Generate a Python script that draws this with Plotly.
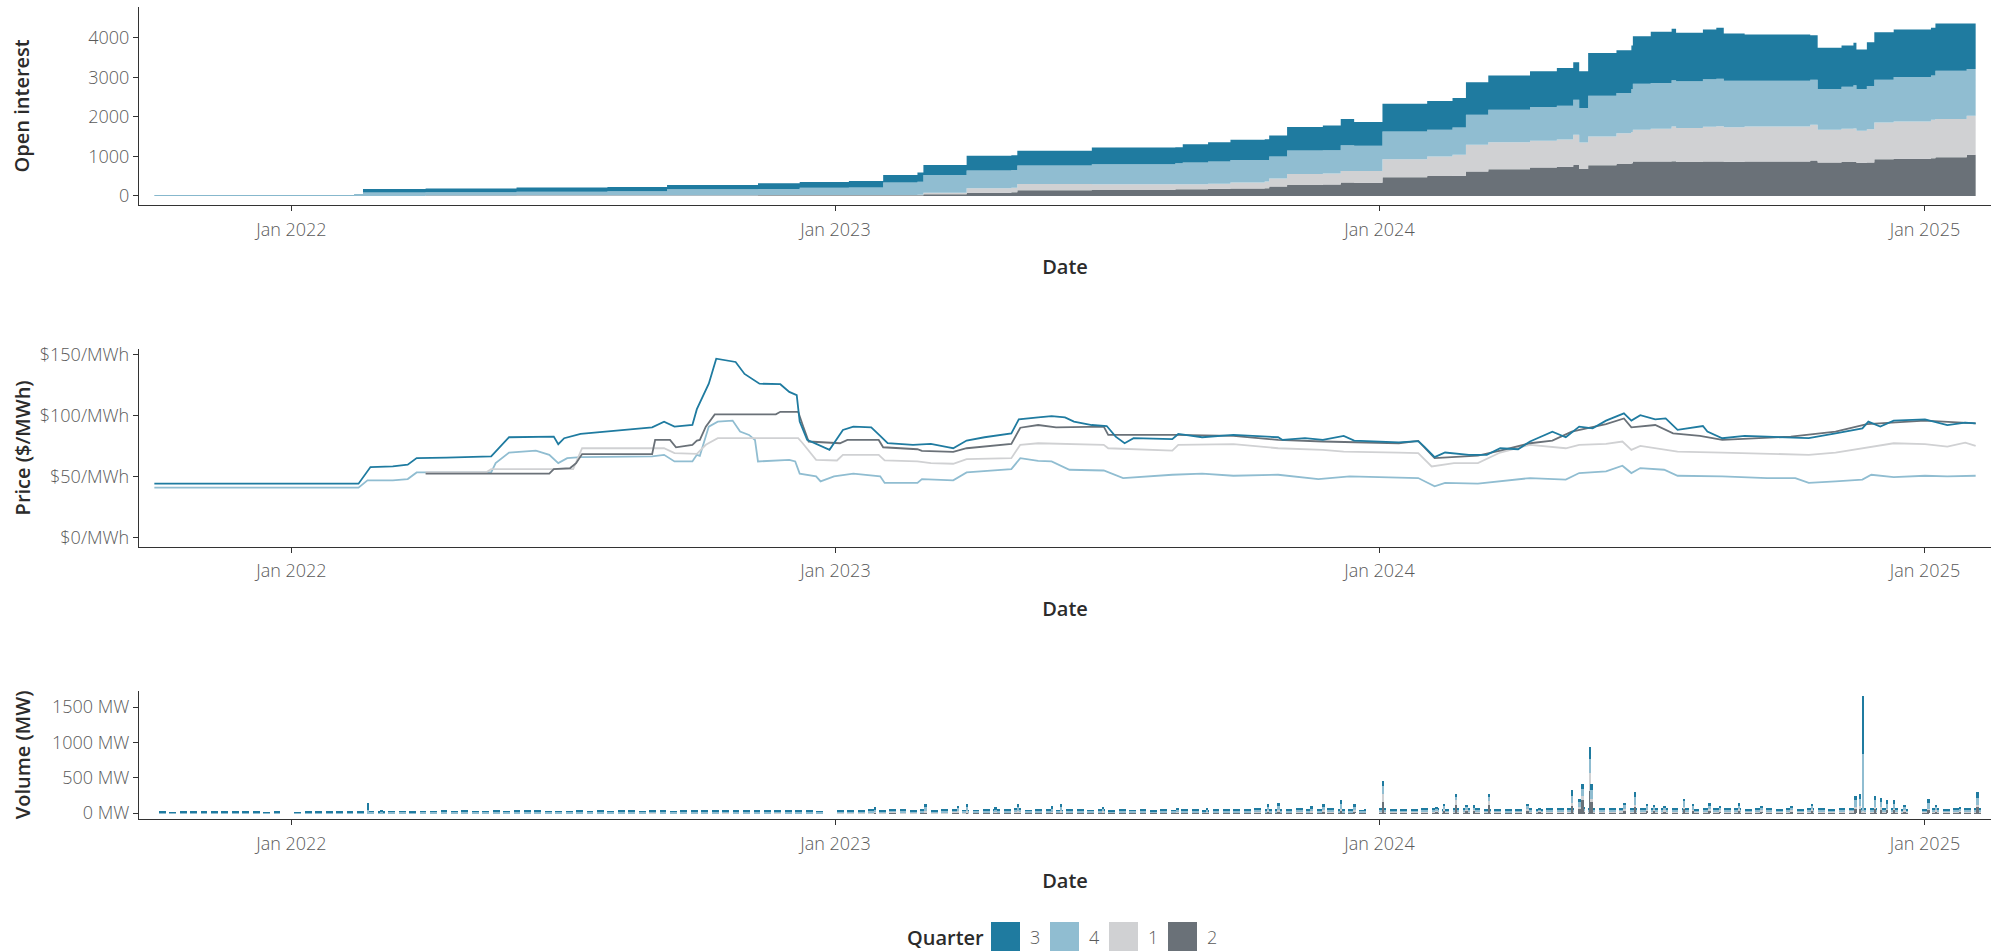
import pandas as pd
import plotly.graph_objects as go

# ---------------- colours ----------------
COL = {"3": "#1f7ba0", "4": "#90bdd1", "1": "#d0d1d3", "2": "#6a7178"}
STACK_ORDER = ["2", "1", "4", "3"]          # bottom -> top
LEGEND_ORDER = ["3", "4", "1", "2"]

# ---------------- open interest (per quarter, step dates) ----------------
oi_dates = ["2021-10-01", "2022-02-12", "2022-02-18", "2022-04-01", "2022-06-01", "2022-08-01",
            "2022-09-10", "2022-11-10", "2022-12-08", "2023-01-10", "2023-02-02", "2023-02-25",
            "2023-03-01", "2023-03-30", "2023-04-29", "2023-05-03", "2023-06-22", "2023-08-17",
            "2023-08-22", "2023-09-08", "2023-09-23", "2023-10-16", "2023-10-19", "2023-10-31",
            "2023-11-24", "2023-12-06", "2023-12-15", "2024-01-02", "2024-01-03", "2024-02-02",
            "2024-02-19", "2024-02-28", "2024-03-14", "2024-04-11", "2024-04-29", "2024-05-10",
            "2024-05-14", "2024-05-20", "2024-06-08", "2024-06-18", "2024-06-19", "2024-07-01",
            "2024-07-15", "2024-07-18", "2024-08-05", "2024-08-14", "2024-08-19", "2024-09-02",
            "2024-10-16", "2024-10-21", "2024-11-06", "2024-11-14", "2024-11-16", "2024-11-23",
            "2024-11-28", "2024-12-11", "2025-01-05", "2025-01-08", "2025-01-29", "2025-02-04"]
oi_q2 = [0, 0, 0, 12, 13, 14, 15, 16, 16, 16, 18, 20, 42, 85, 95, 144, 150, 169, 172, 180, 190, 194,
         237, 279, 290, 338, 335, 335, 474, 507, 515, 617, 677, 719, 740, 786, 685, 778, 812, 830,
         871, 875, 880, 860, 870, 875, 865, 871, 896, 846, 860, 865, 840, 850, 930, 939, 956, 981,
         1040, 1082]
oi_q1 = [0, 0, 0, 3, 5, 6, 6, 6, 6, 6, 8, 10, 43, 110, 115, 160, 150, 127, 128, 130, 150, 170,
         203, 279, 280, 296, 295, 295, 456, 491, 525, 677, 684, 681, 690, 762, 668, 727, 778, 790,
         803, 825, 879, 860, 880, 890, 875, 888, 905, 828, 840, 845, 810, 840, 931, 947, 972, 969,
         990, 1032]
oi_q4 = [20, 25, 90, 80, 87, 100, 148, 155, 189, 195, 312, 330, 448, 448, 450, 466, 500, 533, 545,
         560, 573, 549, 558, 592, 590, 651, 638, 638, 702, 676, 690, 761, 821, 850, 853, 888, 871,
         1032, 1015, 1086, 1168, 1160, 1167, 1180, 1200, 1203, 1178, 1159, 1142, 1032, 1060, 1090,
         1056, 1090, 1082, 1125, 1117, 1221, 1184, 1252]
oi_q3 = [8, 10, 88, 97, 107, 110, 110, 144, 144, 163, 195, 232, 253, 372, 372, 372, 426, 406, 466,
         491, 508, 525, 533, 592, 624, 660, 601, 601, 702, 728, 748, 820, 863, 904, 956, 947, 930,
         1083, 1082, 1100, 1200, 1292, 1302, 1227, 1262, 1286, 1192, 1167, 1125, 1041, 1046, 1073,
         998, 1110, 1201, 1201, 1209, 1193, 1150, 1201]
oi_vals = {"2": oi_q2, "1": oi_q1, "4": oi_q4, "3": oi_q3}

# ---------------- prices ($/MWh) ----------------
p3_dates = ["2021-10-01", "2022-02-15", "2022-02-23", "2022-03-10", "2022-03-20", "2022-03-26",
            "2022-04-15", "2022-05-15", "2022-05-27", "2022-06-26", "2022-06-29", "2022-07-03",
            "2022-07-14", "2022-08-13", "2022-08-31", "2022-09-08", "2022-09-15", "2022-09-27",
            "2022-09-30", "2022-10-08", "2022-10-13", "2022-10-26", "2022-11-01", "2022-11-11",
            "2022-11-25", "2022-12-01", "2022-12-06", "2022-12-08", "2022-12-13", "2022-12-28",
            "2023-01-06", "2023-01-13", "2023-01-25", "2023-01-31", "2023-02-05", "2023-02-22",
            "2023-03-06", "2023-03-18", "2023-03-21", "2023-03-30", "2023-04-11", "2023-04-29",
            "2023-05-04", "2023-05-17", "2023-05-26", "2023-06-04", "2023-06-10", "2023-06-22",
            "2023-07-02", "2023-07-08", "2023-07-14", "2023-07-20", "2023-08-15", "2023-08-19",
            "2023-09-04", "2023-09-25", "2023-10-25", "2023-10-28", "2023-11-12", "2023-11-24",
            "2023-12-08", "2023-12-15", "2024-01-14", "2024-01-27", "2024-01-31", "2024-02-07",
            "2024-02-14", "2024-03-01", "2024-03-13", "2024-03-22", "2024-04-03", "2024-04-11",
            "2024-04-26", "2024-05-05", "2024-05-14", "2024-05-23", "2024-06-01", "2024-06-13",
            "2024-06-18", "2024-06-24", "2024-07-04", "2024-07-11", "2024-07-19", "2024-08-05",
            "2024-08-08", "2024-08-18", "2024-09-02", "2024-09-17", "2024-10-15", "2024-11-02",
            "2024-11-20", "2024-11-24", "2024-12-02", "2024-12-11", "2025-01-01", "2025-01-16",
            "2025-01-28", "2025-02-04"]
p3_vals = [44.2, 44.2, 57.8, 58.3, 59.7, 65.1, 65.5, 66.5, 82.2, 82.7, 76.5, 81.4, 84.9, 88.2, 90.3,
           94.9, 90.9, 92.2, 105.2, 126, 146.5, 143.8, 134, 126, 125.6, 119.3, 116.6, 95, 80, 71.9,
           88.2, 90.9, 90.3, 83.3, 77.3, 76, 76.8, 74, 73.2, 79.5, 82.2, 85.4, 96.8, 98.5, 99.5, 98.5,
           95, 92.2, 91.4, 82.7, 77.3, 81.4, 80.6, 84.9, 82.2, 84.1, 82.2, 80, 81.4, 80, 83.3, 79.5,
           78, 79, 74.6, 65.9, 69.7, 67.8, 67.8, 73.2, 72.4, 78.7, 86.8, 82.2, 90.9, 89.5, 95.8,
           101.7, 95.8, 100.3, 96.8, 97.6, 88.2, 91.4, 86.8, 81.4, 83.3, 82.7, 81.4, 85.4, 89.5, 95,
           90.9, 95.8, 96.8, 92.2, 94.1, 93.6]

p4_dates = ["2021-10-01", "2022-02-15", "2022-02-21", "2022-03-10", "2022-03-20", "2022-03-26",
            "2022-05-15", "2022-05-18", "2022-05-27", "2022-06-14", "2022-06-23", "2022-06-29",
            "2022-07-05", "2022-07-14", "2022-08-31", "2022-09-08", "2022-09-15", "2022-09-27",
            "2022-09-30", "2022-10-02", "2022-10-08", "2022-10-14", "2022-10-24", "2022-10-29",
            "2022-11-04", "2022-11-08", "2022-11-10", "2022-12-01", "2022-12-05", "2022-12-08",
            "2022-12-19", "2022-12-22", "2022-12-31", "2023-01-13", "2023-01-31", "2023-02-03",
            "2023-02-25", "2023-02-28", "2023-03-21", "2023-03-30", "2023-04-29", "2023-05-05",
            "2023-05-17", "2023-05-26", "2023-06-07", "2023-06-30", "2023-07-13", "2023-08-15",
            "2023-09-04", "2023-09-25", "2023-10-25", "2023-11-21", "2023-12-12", "2024-01-14",
            "2024-01-27", "2024-02-07", "2024-02-14", "2024-03-07", "2024-03-22", "2024-04-11",
            "2024-05-05", "2024-05-14", "2024-06-01", "2024-06-12", "2024-06-18", "2024-06-24",
            "2024-07-10", "2024-07-19", "2024-08-18", "2024-09-17", "2024-10-06", "2024-10-15",
            "2024-11-02", "2024-11-20", "2024-11-26", "2024-12-11", "2025-01-01", "2025-01-16",
            "2025-02-04"]
p4_vals = [41, 41, 46.9, 46.9, 48, 53.4, 53.4, 61, 69.7, 71.3, 67.8, 61, 65.1, 66, 66.5, 67.8, 62.4,
           62.4, 67.8, 67, 90.9, 95, 95.8, 86.8, 84.1, 80, 62.4, 63.7, 62.4, 52.4, 50.2, 46.1, 50.2,
           52.4, 50.2, 44.8, 44.8, 48, 46.9, 53.4, 56.1, 65.1, 62.9, 62.4, 55.6, 55, 48.8, 51.5,
           52.4, 50.7, 51.5, 48, 50.2, 48.8, 48.8, 42, 44.8, 44.2, 46.1, 48.8, 47.5, 52.9, 54.3,
           58.9, 52.9, 57, 55.6, 50.7, 50.2, 48.8, 48.8, 44.8, 46.1, 47.5, 51.5, 49.6, 50.7, 50.2,
           50.7]

p1_dates = ["2022-04-01", "2022-05-12", "2022-05-15", "2022-07-09", "2022-07-15", "2022-09-08",
            "2022-09-15", "2022-09-30", "2022-10-06", "2022-10-14", "2022-12-07", "2022-12-10",
            "2022-12-19", "2023-01-02", "2023-01-06", "2023-01-30", "2023-02-03", "2023-02-25",
            "2023-03-06", "2023-03-21", "2023-03-30", "2023-04-29", "2023-05-05", "2023-05-17",
            "2023-06-30", "2023-07-03", "2023-08-15", "2023-08-19", "2023-09-25", "2023-10-25",
            "2023-11-24", "2023-12-08", "2024-01-14", "2024-01-27", "2024-02-05", "2024-02-20",
            "2024-03-07", "2024-03-22", "2024-04-11", "2024-05-05", "2024-05-14", "2024-06-01",
            "2024-06-12", "2024-06-18", "2024-06-24", "2024-07-19", "2024-08-18", "2024-09-17",
            "2024-10-15", "2024-11-02", "2024-11-24", "2024-12-11", "2025-01-01", "2025-01-16",
            "2025-01-28", "2025-02-04"]
p1_vals = [53.7, 53.7, 56.1, 56.1, 73.2, 73.2, 69.2, 68.6, 76, 81.4, 81.4, 77.3, 63.7, 63.2, 67.8,
           67.8, 63.2, 62.4, 61, 60.5, 64.3, 65.1, 76, 77.3, 76, 73.2, 71.3, 76, 76.5, 73.2, 71.9,
           70.5, 69.7, 69.2, 58.3, 61, 61, 69.7, 76, 73.2, 76, 76.8, 78.7, 71.9, 75.1, 70.5, 69.7,
           68.6, 67.8, 69.7, 74, 77.3, 76.5, 74.6, 77.8, 75.1]

p2_dates = ["2022-04-01", "2022-06-23", "2022-06-26", "2022-07-07", "2022-07-11", "2022-07-15",
            "2022-08-31", "2022-09-02", "2022-09-12", "2022-09-16", "2022-09-27", "2022-09-30",
            "2022-10-02", "2022-10-06", "2022-10-12", "2022-11-22", "2022-11-25", "2022-12-07",
            "2022-12-10", "2022-12-14", "2023-01-04", "2023-01-09", "2023-01-30", "2023-02-02",
            "2023-02-25", "2023-02-28", "2023-03-21", "2023-03-30", "2023-04-29", "2023-05-05",
            "2023-05-17", "2023-05-29", "2023-06-30", "2023-07-03", "2023-08-17", "2023-09-25",
            "2023-10-25", "2023-11-24", "2024-01-14", "2024-01-27", "2024-02-07", "2024-03-07",
            "2024-03-22", "2024-04-11", "2024-04-26", "2024-05-09", "2024-06-01", "2024-06-13",
            "2024-06-18", "2024-07-04", "2024-07-16", "2024-08-03", "2024-08-18", "2024-10-03",
            "2024-11-02", "2024-11-23", "2025-01-01", "2025-02-04"]
p2_vals = [52.4, 52.4, 56.1, 57, 61, 68.4, 68.4, 80, 80, 74, 76, 79.5, 80, 90.9, 100.9, 100.9, 103,
           103, 92.2, 78.7, 77.3, 80, 80, 74, 72.4, 71, 70.3, 73.2, 76.8, 90, 92.2, 90.3, 90.9, 84.1,
           84.1, 83.3, 80, 78.7, 77.3, 79.2, 65.1, 67.2, 71.3, 77.3, 79.5, 86.8, 93, 97.6, 90.3,
           92.2, 85.4, 83.3, 80, 82.7, 86.8, 93, 95.8, 93.6]

price_dates = {"3": p3_dates, "4": p4_dates, "1": p1_dates, "2": p2_dates}
price_vals = {"3": p3_vals, "4": p4_vals, "1": p1_vals, "2": p2_vals}

# ---------------- volume (MW): typical daily volume per trading week ----------------
vol_week_start = "2021-10-04"
vw_q3 = [6, 5, 6, 6, 5, 6, 6, 5, 6, 6, 5, 6, 0,
         5, 6, 6, 5, 6, 6, 5, 9, 8, 7, 8, 9, 8,
         8, 9, 7, 10, 8, 9, 12, 8, 9, 10, 11, 9, 8,
         9, 10, 8, 12, 9, 10, 11, 9, 13, 10, 9, 11, 10,
         12, 10, 14, 11, 10, 12, 10, 13, 11, 12, 10, 9, 0,
         10, 12, 11, 14, 12, 16, 13, 12, 15, 12, 14, 18, 13,
         12, 15, 14, 13, 18, 12, 14, 16, 12, 15, 13, 12, 14,
         12, 14, 13, 15, 12, 14, 13, 15, 14, 12, 13, 16, 14,
         15, 18, 16, 14, 15, 17, 14, 16, 18, 15, 14, 12, 0,
         14, 12, 13, 12, 14, 15, 13, 16, 14, 15, 13, 12, 11,
         13, 14, 12, 14, 15, 16, 18, 15, 14, 16, 17, 15, 14,
         15, 14, 16, 15, 13, 14, 15, 16, 14, 13, 15, 14, 13,
         14, 13, 15, 14, 12, 16, 17, 15, 16, 14, 15, 12, 0,
         12, 14, 13, 15, 14, 16]
vw_q4 = [16, 15, 16, 15, 16, 16, 15, 16, 15, 16, 15, 16, 0,
         15, 16, 15, 16, 15, 16, 16, 22, 20, 21, 22, 20, 21,
         20, 22, 19, 24, 21, 20, 25, 19, 21, 23, 24, 20, 19,
         20, 22, 19, 25, 20, 21, 24, 20, 26, 21, 20, 23, 22,
         24, 21, 27, 22, 20, 24, 21, 26, 22, 24, 20, 18, 0,
         20, 24, 22, 27, 23, 30, 25, 22, 28, 23, 26, 32, 24,
         22, 27, 25, 24, 30, 22, 25, 28, 22, 26, 24, 22, 25,
         21, 24, 23, 26, 21, 24, 22, 26, 24, 21, 23, 27, 24,
         25, 30, 27, 24, 26, 28, 24, 27, 30, 25, 24, 20, 0,
         24, 21, 22, 21, 24, 26, 22, 27, 24, 26, 22, 21, 20,
         22, 24, 21, 24, 26, 27, 30, 26, 24, 27, 29, 26, 24,
         26, 24, 27, 26, 22, 24, 26, 27, 24, 22, 26, 24, 22,
         24, 22, 26, 24, 21, 27, 29, 26, 27, 24, 26, 21, 0,
         21, 24, 22, 26, 24, 27]
vw_q1 = [0, 0, 0, 0, 0, 0, 0, 0, 0, 0, 0, 0, 0,
         0, 0, 0, 0, 0, 0, 0, 0, 0, 0, 0, 0, 0,
         2, 3, 2, 3, 2, 3, 3, 2, 3, 3, 2, 3, 2,
         3, 2, 3, 3, 2, 3, 3, 2, 4, 3, 2, 3, 3,
         3, 3, 4, 3, 3, 3, 3, 4, 3, 3, 3, 2, 0,
         4, 5, 4, 6, 5, 7, 6, 5, 7, 5, 6, 8, 6,
         6, 8, 7, 6, 9, 6, 7, 8, 6, 7, 6, 6, 7,
         6, 7, 6, 8, 6, 7, 6, 8, 7, 6, 7, 8, 7,
         8, 10, 9, 8, 8, 9, 8, 9, 10, 8, 8, 7, 0,
         10, 8, 9, 8, 10, 11, 9, 11, 10, 11, 9, 8, 8,
         9, 10, 9, 10, 11, 11, 13, 11, 10, 11, 12, 11, 10,
         11, 10, 11, 11, 9, 10, 11, 11, 10, 9, 11, 10, 9,
         10, 9, 11, 10, 9, 11, 12, 11, 11, 10, 11, 9, 0,
         9, 10, 9, 11, 10, 11]
vw_q2 = [0, 0, 0, 0, 0, 0, 0, 0, 0, 0, 0, 0, 0,
         0, 0, 0, 0, 0, 0, 0, 0, 0, 0, 0, 0, 0,
         2, 2, 2, 3, 2, 2, 3, 2, 2, 3, 3, 2, 2,
         2, 3, 2, 3, 2, 3, 3, 2, 3, 3, 2, 3, 3,
         3, 3, 3, 3, 2, 3, 3, 3, 3, 3, 3, 2, 0,
         4, 5, 4, 6, 5, 7, 6, 5, 7, 5, 6, 8, 6,
         7, 9, 8, 7, 10, 7, 8, 9, 7, 8, 7, 7, 8,
         7, 8, 7, 9, 7, 8, 7, 9, 8, 7, 8, 9, 8,
         10, 13, 11, 10, 10, 12, 10, 11, 13, 10, 10, 8, 0,
         16, 13, 14, 13, 16, 18, 14, 18, 16, 18, 14, 13, 12,
         14, 16, 13, 16, 18, 18, 21, 18, 16, 18, 20, 18, 16,
         18, 16, 18, 18, 14, 16, 18, 18, 16, 14, 18, 16, 14,
         16, 14, 18, 16, 14, 18, 20, 18, 18, 16, 18, 14, 0,
         14, 16, 14, 18, 16, 18]
vol_week = {"3": vw_q3, "4": vw_q4, "1": vw_q1, "2": vw_q2}

# high-volume trading days
spike_dates = ["2022-02-21", "2022-03-02",
               "2023-01-27", "2023-03-02", "2023-03-24", "2023-03-30", "2023-04-18", "2023-05-03",
               "2023-05-26", "2023-06-01", "2023-06-29", "2023-08-18", "2023-09-07", "2023-10-18",
               "2023-10-25", "2023-11-16", "2023-11-24", "2023-12-06", "2023-12-15", "2023-12-22",
               "2024-01-03", "2024-02-08", "2024-02-13", "2024-02-21", "2024-02-28", "2024-03-04",
               "2024-03-14", "2024-04-09", "2024-04-17", "2024-05-09", "2024-05-14", "2024-05-16",
               "2024-05-21", "2024-05-22", "2024-06-13", "2024-06-20", "2024-06-28", "2024-07-03",
               "2024-07-10", "2024-07-23", "2024-07-29", "2024-08-09", "2024-08-16", "2024-08-29",
               "2024-09-13", "2024-10-03", "2024-10-17", "2024-11-15", "2024-11-18", "2024-11-20",
               "2024-11-28", "2024-12-02", "2024-12-06", "2024-12-11", "2024-12-18",
               "2025-01-03", "2025-01-08", "2025-01-24", "2025-02-05"]
sp_q3 = [110, 20,
         25, 40, 30, 40, 25, 45, 30, 40, 25, 25, 20, 45, 45, 25, 40, 55, 40, 20,
         70, 25, 30, 45, 30, 25, 45, 35, 20, 80, 50, 70, 178, 80, 35, 70, 30, 30, 20, 40, 30, 40,
         25, 40, 20, 25, 30, 60, 70, 820, 60, 55, 45, 50, 30,
         50, 30, 20, 80]
sp_q4 = [45, 30,
         40, 60, 50, 60, 40, 60, 45, 55, 40, 35, 30, 50, 55, 40, 50, 70, 45, 25,
         105, 30, 45, 40, 40, 40, 60, 45, 25, 100, 70, 100, 197, 130, 55, 110, 50, 45, 35, 80, 45,
         50, 40, 50, 35, 40, 50, 90, 100, 810, 90, 80, 70, 70, 45,
         80, 45, 35, 110]
sp_q1 = [0, 0,
         10, 15, 15, 15, 10, 20, 15, 20, 15, 10, 10, 20, 25, 15, 20, 30, 20, 10,
         115, 15, 20, 70, 20, 15, 60, 20, 10, 40, 30, 50, 258, 40, 20, 30, 20, 15, 15, 25, 20, 20,
         15, 20, 15, 15, 20, 30, 30, 15, 30, 30, 20, 20, 20,
         20, 20, 15, 30]
sp_q2 = [0, 0,
         10, 15, 15, 15, 10, 15, 10, 15, 15, 10, 10, 25, 30, 20, 25, 40, 30, 10,
         165, 25, 40, 125, 35, 35, 115, 40, 25, 110, 60, 195, 314, 160, 40, 95, 35, 35, 30, 65, 35,
         40, 30, 40, 30, 30, 40, 65, 70, 15, 65, 55, 50, 50, 30,
         50, 30, 25, 85]
vol_spike = {"3": sp_q3, "4": sp_q4, "1": sp_q1, "2": sp_q2}

# axis ticks
oi_ticks = [0, 1000, 2000, 3000, 4000]
oi_ticktext = ["0", "1000", "2000", "3000", "4000"]
price_ticks = [0, 50, 100, 150]
price_ticktext = ["$0/MWh", "$50/MWh", "$100/MWh", "$150/MWh"]
vol_ticks = [0, 500, 1000, 1500]
vol_ticktext = ["0 MW", "500 MW", "1000 MW", "1500 MW"]

# ---------------- layout constants (pixels of a 2004 x 952 page) ----------------
W, H = 2004, 952
FONT = "Open Sans"
TICK_COL = "#5a5a5a"
AXIS_COL = "#333333"
TITLE_COL = "#2b2b2b"


def px_x(p):
    return p / W


def px_y(p):
    return 1 - p / H


X_DOM = [px_x(139), px_x(1991)]
PANELS = [(6.7, 205), (349, 546.7), (690.7, 819)]
X_RANGE = ["2021-09-20 17:00", "2025-02-14 07:00"]
DAY_MS = 86400000

fig = go.Figure()

# open interest: stacked areas
for q in STACK_ORDER:
    fig.add_trace(go.Scatter(
        x=pd.to_datetime(oi_dates), y=oi_vals[q], name=q, stackgroup="oi",
        mode="lines", line=dict(width=0, shape="hv", color=COL[q]),
        fillcolor=COL[q], showlegend=False, xaxis="x", yaxis="y"))

# prices: lines (draw light ones first)
for q in ["4", "1", "2", "3"]:
    fig.add_trace(go.Scatter(
        x=pd.to_datetime(price_dates[q]), y=price_vals[q], name=q, mode="lines",
        line=dict(width=1.8, color=COL[q]), showlegend=False, xaxis="x2", yaxis="y2"))

# volume: weekly blocks
wk = pd.date_range(vol_week_start, periods=len(vw_q3), freq="7D")
for q in STACK_ORDER:
    fig.add_trace(go.Bar(
        x=wk, y=vol_week[q], name=q, marker=dict(color=COL[q], line=dict(width=0)),
        width=4.6 * DAY_MS, offset=0, showlegend=False, xaxis="x3", yaxis="y3"))
# volume: individual high-volume days
sp_x = pd.to_datetime(spike_dates) + pd.Timedelta(hours=12)
for q in STACK_ORDER:
    fig.add_trace(go.Bar(
        x=sp_x, y=vol_spike[q], name=q, marker=dict(color=COL[q], line=dict(width=0)),
        width=1.3 * DAY_MS, showlegend=False, xaxis="x3", yaxis="y3"))

tickfont = dict(family=FONT, size=18, color=TICK_COL, weight=300)
titlefont = dict(family=FONT, size=20, color=TITLE_COL, weight=600)


def xaxis(anchor):
    return dict(
        domain=X_DOM, anchor=anchor, type="date", range=X_RANGE,
        tick0="2022-01-01", dtick="M12", tickformat="%b %Y",
        showline=True, linecolor=AXIS_COL, linewidth=1.3, ticks="outside", ticklen=5,
        tickwidth=1.3, tickcolor=AXIS_COL, showgrid=False, zeroline=False,
        tickfont=tickfont, ticklabelstandoff=3,
        title=dict(text="Date", font=titlefont, standoff=20), automargin=False)


def yaxis(anchor, dom, rng, tickvals, ticktext, standoff=10, title=""):
    return dict(
        domain=[px_y(dom[1]), px_y(dom[0])], anchor=anchor, range=rng,
        tickmode="array", tickvals=tickvals, ticktext=ticktext,
        showline=True, linecolor=AXIS_COL, linewidth=1.3, ticks="outside", ticklen=5,
        tickwidth=1.3, tickcolor=AXIS_COL, showgrid=False, zeroline=False,
        tickfont=tickfont, title=dict(text=title, font=titlefont, standoff=standoff),
        automargin=False)


# manual legend (title + square keys)
shapes, annots = [], []
annots.append(dict(text="Quarter", x=px_x(986), y=px_y(937), xref="paper", yref="paper",
                   xanchor="right", yanchor="middle", showarrow=False, font=titlefont))
key_left = [991, 1050, 1109, 1168]
for q, kx in zip(LEGEND_ORDER, key_left):
    shapes.append(dict(type="rect", xref="paper", yref="paper", x0=px_x(kx), x1=px_x(kx + 29),
                       y0=px_y(951), y1=px_y(922), fillcolor=COL[q], line=dict(width=0)))
    annots.append(dict(text=q, x=px_x(kx + 44), y=px_y(937), xref="paper", yref="paper",
                       xanchor="center", yanchor="middle", showarrow=False,
                       font=dict(family=FONT, size=18, color=TICK_COL, weight=300)))

fig.update_layout(
    width=W, height=H, margin=dict(l=0, r=0, t=0, b=0),
    paper_bgcolor="white", plot_bgcolor="white", barmode="stack", bargap=0,
    showlegend=False, font=dict(family=FONT),
    xaxis=xaxis("y"), xaxis2=xaxis("y2"), xaxis3=xaxis("y3"),
    yaxis=yaxis("x", PANELS[0], [-228, 4788], oi_ticks, oi_ticktext,
                standoff=53, title="Open interest"),
    yaxis2=yaxis("x2", PANELS[1], [-7.35, 154.4], price_ticks, price_ticktext,
                 standoff=3, title="Price ($/MWh)"),
    yaxis3=yaxis("x3", PANELS[2], [-82.5, 1732], vol_ticks, vol_ticktext,
                 standoff=15, title="Volume (MW)"),
    shapes=shapes, annotations=annots,
)

fig.write_html("out.html", config={"displayModeBar": False},
               post_script="document.body.style.margin='0';document.body.style.overflow='hidden';")
